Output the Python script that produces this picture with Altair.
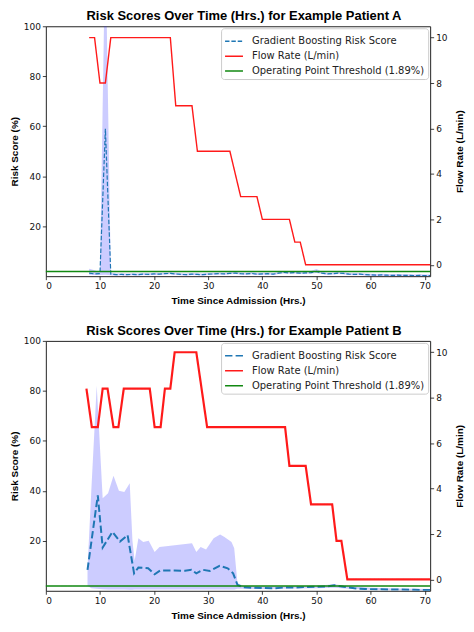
import altair as alt
import pandas as pd

SERIES = ["Gradient Boosting Risk Score", "Flow Rate (L/min)", "Operating Point Threshold (1.89%)"]
COLORS = ["#1f77b4", "#ff1a1a", "#118811"]
THRESHOLD = 1.89

# ---------------- Patient A ----------------
flow_a_time = [8, 9, 10, 11, 12, 23, 24, 27, 28, 34, 36, 39, 40, 45, 46, 47, 48, 71]
flow_a_rate = [10, 10, 8, 8, 10, 10, 7, 7, 5, 5, 3, 3, 2, 2, 1, 1, 0, 0]

risk_a_time = [8, 9, 10, 11, 12, 13, 14, 15, 16, 17, 18, 19, 20, 21, 22, 23, 24, 25, 26, 27,
               28, 29, 30, 31, 32, 33, 34, 35, 36, 37, 38, 39, 40, 41, 42, 43, 44, 45, 46, 47,
               48, 49, 50, 51, 52, 53, 54, 55, 56, 57, 58, 59, 60, 61, 62, 63, 64, 65, 66, 67,
               68, 69, 70, 71]
risk_a_val = [1.2, 0.9, 1.0, 59.0, 0.8, 0.6, 0.7, 0.6, 0.7, 0.6, 0.8, 0.7, 0.9, 0.8, 1.0, 1.1, 0.9, 0.7, 0.6, 0.8,
              0.7, 0.6, 0.8, 0.9, 1.0, 0.9, 1.1, 1.2, 1.0, 0.9, 1.1, 0.8, 0.9, 1.0, 0.8, 1.2, 1.5, 1.3, 1.4, 1.2,
              1.3, 1.4, 1.9, 1.2, 0.9, 1.0, 1.2, 1.1, 0.8, 0.7, 0.8, 0.6, 0.5, 0.4, 0.5, 0.4, 0.3, 0.4, 0.3, 0.3,
              0.2, 0.3, 0.2, 0.2]
band_a_hi = [3.0, 2.4, 1.6, 135.0, 1.4, 1.1, 1.2, 1.1, 1.2, 1.1, 1.3, 1.2, 1.4, 1.3, 1.5, 1.6, 1.4, 1.2, 1.1, 1.3,
             1.2, 1.1, 1.3, 1.4, 1.5, 1.4, 1.6, 1.7, 1.5, 1.4, 1.6, 1.3, 1.4, 1.5, 1.3, 1.7, 2.0, 1.8, 1.9, 1.7,
             1.9, 2.1, 2.9, 1.8, 1.4, 1.5, 1.7, 1.6, 1.3, 1.2, 1.3, 1.1, 1.0, 0.9, 1.0, 0.9, 0.8, 0.9, 0.8, 0.8,
             0.7, 0.8, 0.7, 0.7]
band_a_lo = [0.6, 0.5, 0.5, 0.6, 0.4, 0.3, 0.4, 0.3, 0.4, 0.3, 0.5, 0.4, 0.6, 0.5, 0.7, 0.8, 0.6, 0.4, 0.3, 0.5,
             0.4, 0.3, 0.5, 0.6, 0.7, 0.6, 0.8, 0.9, 0.7, 0.6, 0.8, 0.5, 0.6, 0.7, 0.5, 0.9, 1.1, 1.0, 1.1, 0.9,
             1.0, 1.0, 1.3, 0.9, 0.6, 0.7, 0.9, 0.8, 0.5, 0.4, 0.5, 0.3, 0.2, 0.1, 0.2, 0.1, 0.0, 0.1, 0.0, 0.0,
             0.0, 0.0, 0.0, 0.0]

# ---------------- Patient B ----------------
flow_b_time = [7.5, 8.5, 9.6, 10.5, 11.4, 12.5, 13.4, 14.4, 19.2, 20.1, 21.2, 22.0, 23.0, 23.8, 27.8,
               29.8, 44.2, 45.0, 48.0, 49.0, 52.9, 53.7, 54.6, 55.7, 71]
flow_b_rate = [8.4, 6.7, 6.7, 8.4, 8.4, 6.7, 6.7, 8.4, 8.4, 6.7, 6.7, 8.4, 8.4, 10.0, 10.0,
               6.7, 6.7, 5.0, 5.0, 3.3, 3.3, 1.7, 1.7, 0.0, 0.0]

risk_b_time = [7.7, 9.6, 10.5, 12.3, 13.7, 15.1, 16.3, 17.1, 18.9, 20.1, 21.1, 23.8, 25.7, 26.9, 27.8,
               29.0, 30.3, 32.1, 33.6, 34.6, 35.4, 36.5, 38, 40, 42, 44, 46, 48, 50, 52, 53.3, 55,
               57, 59, 62, 65, 68, 71]
risk_b_val = [8.4, 38.2, 17.3, 23.6, 19.7, 22.3, 7.0, 9.3, 9.0, 6.6, 8.1, 8.1, 8.0, 8.4, 7.0,
              8.4, 7.9, 10.0, 9.0, 7.0, 2.4, 1.4, 1.2, 1.1, 1.0, 1.3, 1.3, 1.5, 1.6, 1.8, 2.2, 1.6,
              1.0, 0.7, 0.6, 0.5, 0.4, 0.3]

band_b_time = [7.7, 8.4, 9.4, 10.5, 11.5, 12.5, 13.5, 14.5, 15.5, 16.0, 16.4, 17.1, 18.0, 19.0, 20.1,
               21.0, 23.0, 25.0, 27.0, 27.8, 28.6, 29.6, 31.0, 32.2, 33.0, 34.3, 34.8, 35.4, 36.5, 40,
               45, 50, 53.3, 56, 60, 65, 71]
band_b_hi = [9, 40, 82, 37, 39, 46, 40, 39.5, 43, 20, 12, 21, 19.5, 20, 15.5,
             17.5, 18, 18.5, 19, 15.5, 17.5, 16.5, 21, 22.5, 21.5, 19.5, 17, 3, 2, 1.8,
             1.8, 2.0, 2.6, 1.8, 1.2, 0.9, 0.7]
band_b_lo = [2.0, 1.0, 0.8, 0.6, 0.5, 0.5, 0.5, 0.5, 0.4, 0.4, 0.5, 0.5, 0.5, 0.5, 0.5,
             0.5, 0.5, 0.5, 0.5, 0.5, 0.5, 0.5, 0.5, 0.5, 0.5, 0.5, 0.5, 0.8, 0.8, 0.7,
             0.9, 1.0, 1.2, 0.8, 0.4, 0.2, 0.1]

X_TICKS = [0, 10, 20, 30, 40, 50, 60, 70]
LEFT_TICKS = [20, 40, 60, 80, 100]
RIGHT_TICKS = [0, 2, 4, 6, 8, 10]

W, H = 386, 251


def panel(title, flow_t, flow_r, risk_t, risk_v, band_t, band_lo, band_hi, lw):
    flow_df = pd.DataFrame({"t": flow_t, "v": flow_r, "series": SERIES[1]})
    risk_df = pd.DataFrame({"t": risk_t, "v": risk_v, "series": SERIES[0]})
    band_df = pd.DataFrame({"t": band_t, "lo": band_lo, "hi": band_hi})
    thr_df = pd.DataFrame({"v": [THRESHOLD], "series": [SERIES[2]]})

    x = alt.X("t:Q", scale=alt.Scale(domain=[0, 71], nice=False, zero=False),
              axis=alt.Axis(values=X_TICKS, title="Time Since Admission (Hrs.)", titlePadding=5))
    yscale = alt.Scale(domain=[0, 100], nice=False)
    yaxis = alt.Axis(values=LEFT_TICKS, title="Risk Score (%)", orient="left", titlePadding=4)
    legend = alt.Legend(title=None, orient="top-right", offset=2, symbolStrokeWidth=1.5)
    color = alt.Color("series:N", scale=alt.Scale(domain=SERIES, range=COLORS), legend=legend)
    dash = alt.StrokeDash("series:N",
                          scale=alt.Scale(domain=SERIES,
                                          range=[[3.7 * lw, 1.6 * lw], [1, 0], [1, 0]]),
                          legend=legend)

    band = alt.Chart(band_df).mark_area(color="#3333ff", opacity=0.25, clip=True).encode(
        x=x, y=alt.Y("lo:Q", scale=yscale, axis=yaxis), y2="hi:Q")
    risk = alt.Chart(risk_df).mark_line(strokeWidth=lw, clip=True).encode(
        x=x, y=alt.Y("v:Q", scale=yscale, axis=yaxis), color=color, strokeDash=dash)
    thr = alt.Chart(thr_df).mark_rule(strokeWidth=1.6).encode(
        y=alt.Y("v:Q", scale=yscale, axis=yaxis), color=color, strokeDash=dash)
    left = alt.layer(band, risk, thr)

    flow = alt.Chart(flow_df).mark_line(strokeWidth=lw + 0.2).encode(
        x=x,
        y=alt.Y("v:Q", scale=alt.Scale(domain=[-0.5, 10.5], nice=False, zero=False),
                axis=alt.Axis(values=RIGHT_TICKS, title="Flow Rate (L/min)", orient="right",
                              titleAngle=270, titlePadding=18)),
        color=color, strokeDash=dash)

    return alt.layer(left, flow).resolve_scale(y="independent").properties(
        width=W, height=H,
        title=alt.TitleParams(title, font="Liberation Sans", fontSize=13, fontWeight="bold",
                              anchor="middle", frame="group", dx=6, offset=-1, color="black"))


chart_a = panel("Risk Scores Over Time (Hrs.) for Example Patient A",
                flow_a_time, flow_a_rate, risk_a_time, risk_a_val,
                risk_a_time, band_a_lo, band_a_hi, 1.2)
chart_b = panel("Risk Scores Over Time (Hrs.) for Example Patient B",
                flow_b_time, flow_b_rate, risk_b_time, risk_b_val,
                band_b_time, band_b_lo, band_b_hi, 2.0)

chart = alt.vconcat(chart_a, chart_b, spacing=18).resolve_scale(
    color="independent", strokeDash="independent"
).resolve_legend(
    color="independent", strokeDash="independent"
).properties(
    padding={"left": 0, "top": 0, "right": 0, "bottom": 0}
).configure_view(
    stroke="#222222", strokeWidth=1
).configure_axis(
    domain=False, grid=False,
    labelFont="DejaVu Sans", labelFontSize=9, labelColor="#111111", labelPadding=2,
    tickColor="#111111", tickSize=3.5, tickWidth=0.8,
    titleFont="Liberation Sans", titleFontSize=10, titleFontWeight="bold", titleColor="black"
).configure_legend(
    fillColor="white", strokeColor="#cccccc", cornerRadius=3, padding=3,
    labelFont="DejaVu Sans", labelFontSize=10, labelColor="#222222", labelOffset=8,
    labelLimit=0, symbolType="stroke", symbolSize=324, symbolStrokeWidth=1.5, rowPadding=0
)

chart.save("out.html", embed_options={"renderer": "svg", "actions": False})
